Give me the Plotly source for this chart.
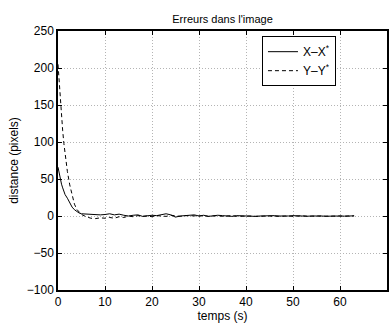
import plotly.graph_objects as go

t_head = [0, 0.25, 0.5, 0.75, 1, 1.25, 1.5, 2, 2.5, 3, 3.5, 4, 4.5]
t_tail = list(range(5, 64))
temps = t_head + t_tail

x_err_head = [66, 57, 49, 43, 38, 33, 29, 24, 17, 12, 8.5, 6, 4]
x_err_tail = [3, 2.5, 2, 2.5, 1.5, 2, 3, 1.5, 2.5, 1,
              0, 1, 1.5, -0.5, 0.5, 1, 0.5, 1.5, 3, 1.5,
              -1.5, 0, 0.5, 1, 1.5, 0, 1, -0.5, 0.5, 1,
              0.5, 0, -0.5, 0.5, 0, 0.5, 0, -0.5, 0, 0.5,
              0, 0.5, 0, -0.5, 0, 0.5, 0, 0.3, -0.3, 0,
              0.5, 0, -0.3, 0, 0.3, 0, -0.2, 0, 0.2]
y_err_head = [205, 180, 160, 140, 115, 98, 85, 60, 42, 27, 16, 9, 5]
y_err_tail = [2, -1, -3, -3.5, -2.5, -3, -2, -3, -1, -2,
              0, -1, 0.5, -0.5, 0, -1, 0.5, 0, -0.5, 1,
              0, -0.5, 0.5, 0, -0.5, 0, 0.5, -0.5, 0, 0.5,
              -0.5, 0, 0.5, -0.5, 0, 0.5, 0, -0.5, 0, 0.5,
              0, -0.5, 0, 0.5, 0, -0.5, 0, 0.3, -0.3, 0,
              0.3, 0, -0.3, 0, 0.3, 0, -0.2, 0, 0.2]
x_err = x_err_head + x_err_tail
y_err = y_err_head + y_err_tail

x_ticks = [0, 10, 20, 30, 40, 50, 60, 70]
y_ticks = [-100, -50, 0, 50, 100, 150, 200, 250]

fig = go.Figure()
fig.add_trace(go.Scatter(x=temps, y=x_err, mode="lines", name="X–X<sup>*</sup>",
                         line=dict(color="black", width=1)))
fig.add_trace(go.Scatter(x=temps, y=y_err, mode="lines", name="Y–Y<sup>*</sup>",
                         line=dict(color="black", width=1, dash="4px,3px")))

axis_common = dict(showline=True, linecolor="black", linewidth=1.5, mirror="ticks",
                   ticks="inside", ticklen=4, tickcolor="black",
                   showgrid=True, gridcolor="#b4b4b4", griddash="1px,2px", gridwidth=1,
                   zeroline=False, automargin=False,
                   tickfont=dict(size=12, color="black"))

fig.update_xaxes(range=[0, 70], tickvals=x_ticks,
                 title=dict(text="temps (s)", font=dict(size=12, color="black"), standoff=0),
                 **axis_common)
fig.update_yaxes(range=[-100, 250], tickvals=y_ticks,
                 title=dict(text="distance (pixels)", font=dict(size=12, color="black"), standoff=6),
                 **axis_common)

fig.update_layout(
    width=391, height=325,
    margin=dict(l=58, r=4, t=31, b=35),
    paper_bgcolor="white", plot_bgcolor="white",
    font=dict(family="Liberation Sans, Arial, sans-serif", color="black"),
    title=dict(text="Erreurs dans l'image", x=0.5, xref="paper", xanchor="center",
               y=1, yref="paper", yanchor="bottom", pad=dict(b=8),
               font=dict(size=11, color="black")),
    legend=dict(x=0.62, y=0.98, xanchor="left", yanchor="top",
                bgcolor="white", bordercolor="black", borderwidth=1,
                font=dict(size=12, color="black"), tracegroupgap=0,
                itemwidth=30),
    showlegend=True,
)

fig.write_html("out.html", config={"displayModeBar": False},
               post_script="document.body.style.margin='0';")
